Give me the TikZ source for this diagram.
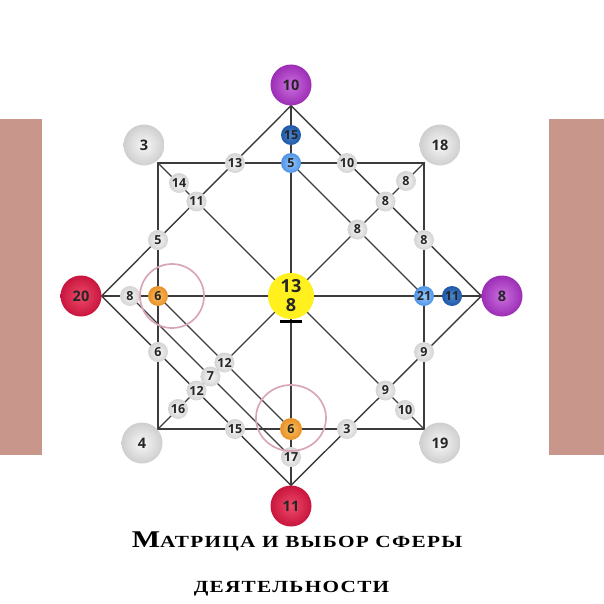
\documentclass[tikz,border=0pt]{standalone}
\usepackage{fontspec}
\setmainfont{Open Sans}
\newfontfamily\titlefont{Liberation Serif}[LetterSpace=6]
\usetikzlibrary{arrows}

\definecolor{wiregrey}{HTML}{3C3C3C}
\definecolor{barpink}{HTML}{C9968C}
\definecolor{ringpink}{HTML}{D9A6B6}
\definecolor{ballyellow}{HTML}{FFF01E}
\definecolor{purpleIn}{HTML}{CC70E0}
\definecolor{purpleOut}{HTML}{9C2DB5}
\definecolor{redIn}{HTML}{EE4A6A}
\definecolor{redOut}{HTML}{C8153D}
\definecolor{dblueIn}{HTML}{4C86CF}
\definecolor{dblueOut}{HTML}{1E58A6}
\definecolor{lblueIn}{HTML}{96C8FF}
\definecolor{lblueOut}{HTML}{4F93E4}
\definecolor{orangeIn}{HTML}{F9BE5A}
\definecolor{orangeOut}{HTML}{E8912A}

\pgfdeclarelayer{bg}
\pgfsetlayers{bg,main}

\begin{document}
\begin{tikzpicture}[>=latex, x=1pt, y=-1pt,
  numdot/.style={circle, inner sep=0pt, minimum size=#1, text=black!85, shading=radial},
  bignum/.style={numdot=41pt, font=\bfseries\fontsize{14.5}{14.5}\selectfont},
  smallnum/.style={numdot=20pt, font=\bfseries\fontsize{12.5}{12.5}\selectfont},
  greyball/.style={bignum, inner color=white!97!black, outer color=black!19},
  purpleball/.style={bignum, inner color=purpleIn, outer color=purpleOut},
  redball/.style={bignum, inner color=redIn, outer color=redOut},
  greydot/.style={smallnum, inner color=white!97!black, outer color=black!17},
  darkbluedot/.style={smallnum, inner color=dblueIn, outer color=dblueOut},
  lightbluedot/.style={smallnum, inner color=lblueIn, outer color=lblueOut},
  orangedot/.style={smallnum, inner color=orangeIn, outer color=orangeOut},
  wire/.style={wiregrey, line width=1.4pt},
  ring/.style={ringpink, line width=1.7pt}]

\useasboundingbox (0,0) rectangle (604,604);

\fill[barpink] (0,119) rectangle (42,455); %left bar
\fill[barpink] (549,119) rectangle (604,455); %right bar

% big points
\node[purpleball] (p10) at (291,85) {10};
\node[redball] (r11) at (291,506) {11};
\node[redball] (r20) at (81,296) {20};
\node[purpleball] (p8) at (502,296) {8};
\node[greyball] (g3) at (144,145) {3};
\node[greyball] (g18) at (440,145) {18};
\node[greyball] (g4) at (142,443) {4};
\node[greyball] (g19) at (440,443) {19};
\node[circle, fill=ballyellow, minimum size=46pt, inner sep=0pt, align=center, text=black!85,
  font=\bfseries\fontsize{18}{19}\selectfont] (c) at (291,296) {13\\8}; %centre

\coordinate (sqTL) at (158,163);
\coordinate (sqTR) at (424,163);
\coordinate (sqBL) at (158,429);
\coordinate (sqBR) at (424,429);

% top
\node[darkbluedot] (b15) at (291,135) {15};
\node[lightbluedot] (b5) at (291,163) {5};
\node[greydot] (w13) at (235,163) {13};
\node[greydot] (w10) at (347,163) {10};
\node[greydot] (w14) at (179,183) {14};
\node[greydot] (w11) at (196.5,201.5) {11};
\node[greydot] (w5) at (158,240) {5};
\node[greydot] (e8a) at (406,181) {8};
\node[greydot] (e8b) at (385.5,201.5) {8};
\node[greydot] (e8c) at (357.5,229.5) {8};
\node[greydot] (e8d) at (424,240) {8};

% middle
\node[greydot] (w8) at (130,296) {8};
\node[orangedot] (o6a) at (158,296) {6};
\node[lightbluedot] (b21) at (424,296) {21};
\node[darkbluedot] (b11) at (452,296) {11};

% bottom
\node[greydot] (w6) at (158,352) {6};
\node[greydot] (w12a) at (224.5,362.5) {12};
\node[greydot] (w7) at (210.5,376.5) {7};
\node[greydot] (w12b) at (196.5,390.5) {12};
\node[greydot] (w16) at (178,409) {16};
\node[greydot] (w15) at (235,429) {15};
\node[orangedot, minimum size=22pt] (o6b) at (291,429) {6};
\node[greydot] (w17) at (291,457) {17};
\node[greydot] (e3) at (347,429) {3};
\node[greydot] (e9a) at (424,352) {9};
\node[greydot] (e9b) at (385.5,390.5) {9};
\node[greydot] (e10) at (405,410) {10};

\begin{pgfonlayer}{bg}
\draw[wire] (sqTL) -- (sqTR) -- (sqBR) -- (sqBL) -- cycle; %square
\draw[wire] (p10.south) -- (p8.west) -- (r11.north) -- (r20.east) -- cycle; %diamond
\draw[wire] (p10.south) -- (r11.north);
\draw[wire] (r20.east) -- (p8.west);
\draw[wire] (sqTL) -- (sqBR);
\draw[wire] (sqTR) -- (sqBL);
\draw[wire] (b5.center) -- (b21.center);
\draw[wire] (o6a.center) -- (o6b.center);
\draw[wire] (w8.center) -- (w17.center);
\end{pgfonlayer}

\draw[line width=2.6pt] ([xshift=-11pt, yshift=-2pt]c.south) -- ([xshift=11pt, yshift=-2pt]c.south); %bar

\draw[ring] (172,296) circle[radius=32pt];
\draw[ring] (291,418) circle[x radius=35pt, y radius=33pt];

\node[anchor=base, xscale=1.25, text=black] (title1) at (297,547)
  {\titlefont\bfseries\fontsize{24}{26}\selectfont М\fontsize{17}{18}\selectfont АТРИЦА И ВЫБОР СФЕРЫ};
\node[anchor=base, xscale=1.25, text=black] (title2) at (291.5,592)
  {\titlefont\bfseries\fontsize{17}{18}\selectfont ДЕЯТЕЛЬНОСТИ};

\end{tikzpicture}
\end{document}
